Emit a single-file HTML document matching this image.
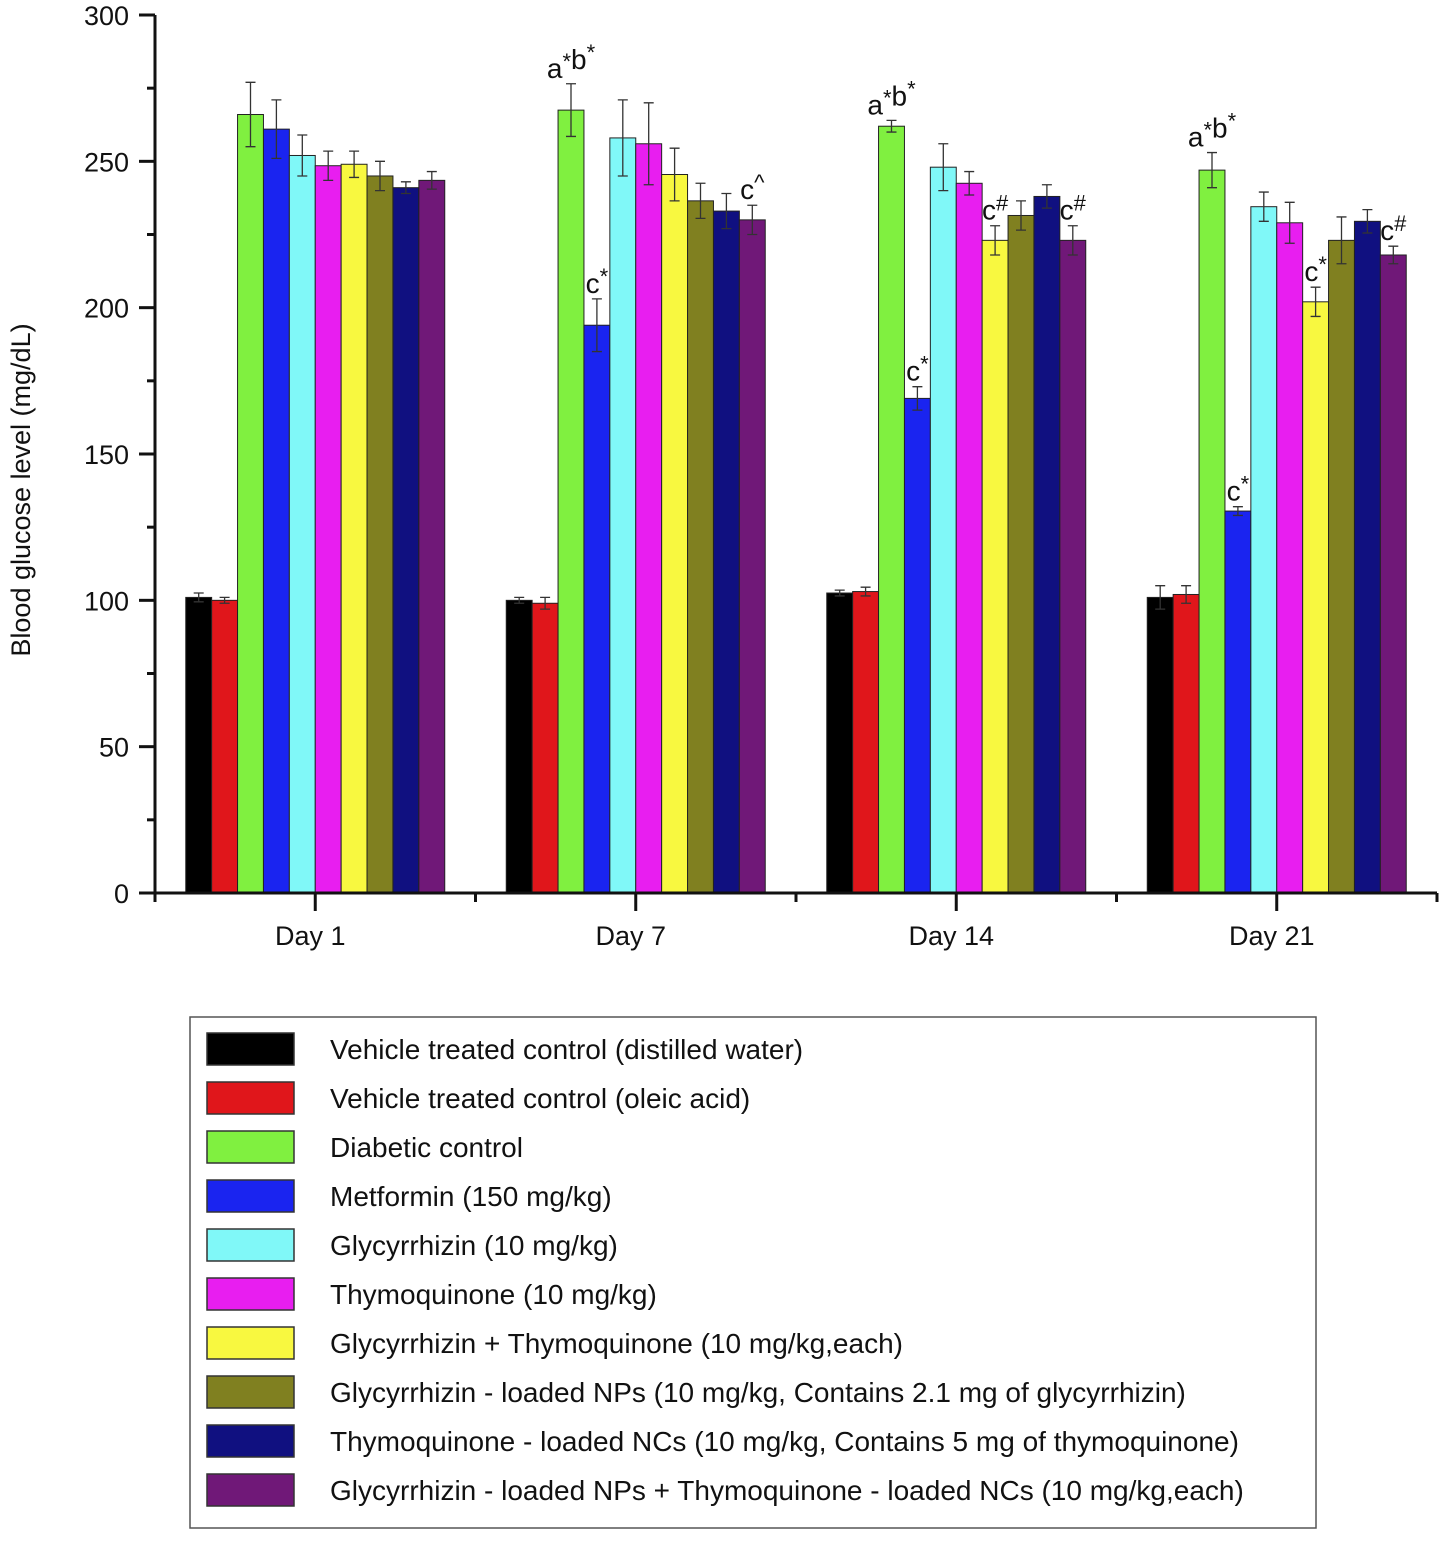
<!DOCTYPE html>
<html><head><meta charset="utf-8"><style>
body{margin:0;background:#fff;}
svg text{font-family:"Liberation Sans",sans-serif;fill:#111;}
</style></head><body>
<svg id="chart" width="1448" height="1536" viewBox="0 0 1448 1536" xmlns="http://www.w3.org/2000/svg">
<g id="bars"></g>
<g id="axes"></g>
<text transform="translate(30,490) rotate(-90)" text-anchor="middle" font-size="27">Blood glucose level (mg/dL)</text>
<rect x="190" y="1017" width="1126" height="511" fill="none" stroke="#555" stroke-width="1.5"/>
<g id="legend"></g>
</svg>
<script>
const categories = ["Day 1","Day 7","Day 14","Day 21"];
const seriesNames = ["Vehicle treated control (distilled water)","Vehicle treated control (oleic acid)","Diabetic control","Metformin (150 mg/kg)","Glycyrrhizin (10 mg/kg)","Thymoquinone (10 mg/kg)","Glycyrrhizin + Thymoquinone (10 mg/kg,each)","Glycyrrhizin - loaded NPs (10 mg/kg, Contains 2.1 mg of glycyrrhizin)","Thymoquinone - loaded NCs (10 mg/kg, Contains 5 mg of thymoquinone)","Glycyrrhizin - loaded NPs + Thymoquinone - loaded NCs (10 mg/kg,each)"];
const colors = ["#000000","#e0161b","#80f040","#1a24f0","#80f8f8","#e81ef0","#f8f840","#808020","#101080","#701878"];
const day1 = [101,100,266,261,252,248.5,249,245,241,243.5];
const day7 = [100,99,267.5,194,258,256,245.5,236.5,233,230];
const day14 = [102.5,103,262,169,248,242.5,223,231.5,238,223];
const day21 = [101,102,247,130.5,234.5,229,202,223,229.5,218];
const err1 = [1.5,1,11,10,7,5,4.5,5,2,3];
const err7 = [1,2,9,9,13,14,9,6,6,5];
const err14 = [1,1.5,2,4,8,4,5,5,4,5];
const err21 = [4,3,6,1.5,5,7,5,8,4,3];
const yTicks = [0,50,100,150,200,250,300];
const annotations = [
 {g:1,s:2,t:"a*b*"},{g:1,s:3,t:"c*"},{g:1,s:9,t:"c^"},
 {g:2,s:2,t:"a*b*"},{g:2,s:3,t:"c*"},{g:2,s:6,t:"c#"},{g:2,s:9,t:"c#"},
 {g:3,s:2,t:"a*b*"},{g:3,s:3,t:"c*"},{g:3,s:6,t:"c*"},{g:3,s:9,t:"c#"}
];
const values=[day1,day7,day14,day21], errs=[err1,err7,err14,err21];
const NS="http://www.w3.org/2000/svg";
const X0=155,X1=1437,Y0=893,Y1=15;
const y=v=>Y0-(v/300)*(Y0-Y1);
const groupW=(X1-X0)/4;
const gc=i=>X0+groupW*(i+0.5);
const bw=25.9;
const bx=(g,s)=>gc(g)-bw*5+bw*s;
function mk(tag,attrs,parent){const e=document.createElementNS(NS,tag);for(const k in attrs)e.setAttribute(k,attrs[k]);parent.appendChild(e);return e;}
const bars=document.getElementById('bars'),axes=document.getElementById('axes'),leg=document.getElementById('legend');
values.forEach((arr,g)=>arr.forEach((v,s)=>{
 const r=mk('rect',{x:bx(g,s),y:y(v),width:bw,height:Y0-y(v),fill:colors[s],stroke:'#222','stroke-width':1},bars);
 
 
 const e=errs[g][s],cx=bx(g,s)+bw/2;
 const eb=mk('path',{d:`M${cx},${y(v+e)}V${y(v-e)}M${cx-5},${y(v+e)}H${cx+5}M${cx-5},${y(v-e)}H${cx+5}`,stroke:'#333','stroke-width':1.3,fill:'none'},bars);
 
 
}));
annotations.forEach(a=>{
 const v=values[a.g][a.s]+errs[a.g][a.s];
 const t=mk('text',{x:bx(a.g,a.s)+bw/2,y:y(v)-6,'text-anchor':'middle','font-size':28},bars);
 const parts=a.t.match(/[a-z][*#^]?/g);
 parts.forEach(p=>{const t1=mk('tspan',{},t);t1.textContent=p[0];if(p[1]){const t2=mk('tspan',{dy:-9,'font-size':22},t);t2.textContent=p[1];const t3=mk('tspan',{dy:9},t);t3.textContent='';}});
 
 
});
mk('path',{d:`M${X0},${Y1}V${Y0}H${X1}`,stroke:'#111','stroke-width':3,fill:'none'},axes);
yTicks.forEach(v=>{
 mk('line',{x1:X0-16,x2:X0,y1:y(v),y2:y(v),stroke:'#111','stroke-width':3},axes);
 if(v<300)mk('line',{x1:X0-8,x2:X0,y1:y(v+25),y2:y(v+25),stroke:'#111','stroke-width':3},axes);
 const t=mk('text',{x:X0-26,y:y(v)+10,'text-anchor':'end','font-size':27},axes);t.textContent=v;
 
 
});
categories.forEach((c,g)=>{
 mk('line',{x1:gc(g),x2:gc(g),y1:Y0,y2:Y0+18,stroke:'#111','stroke-width':3},axes);
 mk('line',{x1:X0+groupW*(g+1),x2:X0+groupW*(g+1),y1:Y0,y2:Y0+9,stroke:'#111','stroke-width':3},axes);
 const t=mk('text',{x:gc(g)-5,y:945,'text-anchor':'middle','font-size':27},axes);t.textContent=c;
 
 
});
mk('line',{x1:X0,x2:X0,y1:Y0,y2:Y0+9,stroke:'#111','stroke-width':3},axes);
seriesNames.forEach((n,i)=>{
 const cy=1049+i*49;
 const r=mk('rect',{x:207,y:cy-16,width:87,height:32,fill:colors[i],stroke:'#333','stroke-width':1.5},leg);
 
 
 const t=mk('text',{x:330,y:cy+10,'font-size':28,textLength:null},leg);t.textContent=n;
 t.removeAttribute('textLength');
 
 
});
</script>
</body></html>
